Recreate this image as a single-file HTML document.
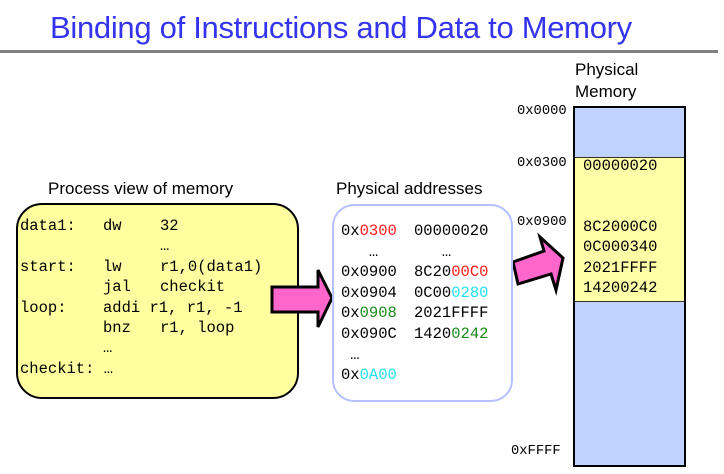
<!DOCTYPE html>
<html><head><meta charset="utf-8"><style>
body{margin:0;width:724px;height:474px;background:#fff;position:relative;overflow:hidden;font-family:"Liberation Sans",sans-serif}
.a{position:absolute;white-space:pre}
.m{font-family:"Liberation Mono",monospace;font-size:15.5px}
.s{font-size:13.8px}
.r{color:#ff1a1a}.c{color:#22e0f0}.g{color:#1a8a1a}
</style></head><body>
<div class="a" style="left:50px;top:10px;font-size:31px;color:#3434ee;letter-spacing:-0.3px">Binding of Instructions and Data to Memory</div>
<div class="a" style="left:0;top:50px;width:718px;height:3px;background:#808080"></div>

<div class="a" style="left:48px;top:179px;font-size:17px">Process view of memory</div>
<div class="a" style="left:16px;top:203px;width:279px;height:192px;border:2px solid #000;border-radius:26px;background:#ffffa0"></div>
<div class="a m" style="left:20px;top:216px;line-height:20.4px">data1:
 
start:
 
loop:
 
 
checkit: …</div>
<div class="a m" style="left:103px;top:216px;line-height:20.4px">dw
 
lw
jal
addi r1, r1, -1
bnz
…</div>
<div class="a m" style="left:160px;top:216px;line-height:20.4px">32
…
r1,0(data1)
checkit
 
r1, loop</div>

<svg class="a" style="left:0;top:0" width="724" height="474">
<polygon points="272,287 318,287 318,270 332,298 318,327 318,312 272,312" fill="#ff66cc" stroke="#000" stroke-width="3" stroke-linejoin="miter"/>
<polygon points="513,262 544,251 540,237 563,258 556,290 551,274 518,284" fill="#ff66cc" stroke="#000" stroke-width="3"/>
</svg>

<div class="a" style="left:336px;top:179px;font-size:17px">Physical addresses</div>
<div class="a" style="left:332px;top:204px;width:177px;height:194px;border:2px solid #b4c0ff;border-radius:22px;background:#fff"></div>
<div class="a m" style="left:341px;top:221px;line-height:20.6px">0x<span class="r">0300</span>
   …
0x0900
0x0904
0x<span class="g">0908</span>
0x090C
 …
0x<span class="c">0A00</span></div>
<div class="a m" style="left:414px;top:221px;line-height:20.6px">00000020
   …
8C20<span class="r">00C0</span>
0C00<span class="c">0280</span>
2021FFFF
1420<span class="g">0242</span></div>

<div class="a" style="left:575px;top:59px;font-size:17px;line-height:22px">Physical
Memory</div>
<div class="a" style="left:573px;top:106px;width:109px;height:357px;border:2px solid #000;background:#c0d2ff"></div>
<div class="a" style="left:575px;top:157px;width:109px;height:143px;border-top:1px solid #333;border-bottom:1px solid #333;background:#ffffa8"></div>
<div class="a m s" style="left:517px;top:104px">0x0000</div>
<div class="a m s" style="left:517px;top:156px">0x0300</div>
<div class="a m s" style="left:517px;top:215px">0x0900</div>
<div class="a m s" style="left:511px;top:444px">0xFFFF</div>
<div class="a m" style="left:583px;top:157px">00000020</div>
<div class="a m" style="left:583px;top:217px;line-height:20.4px">8C2000C0
0C000340
2021FFFF
14200242</div>
</body></html>
